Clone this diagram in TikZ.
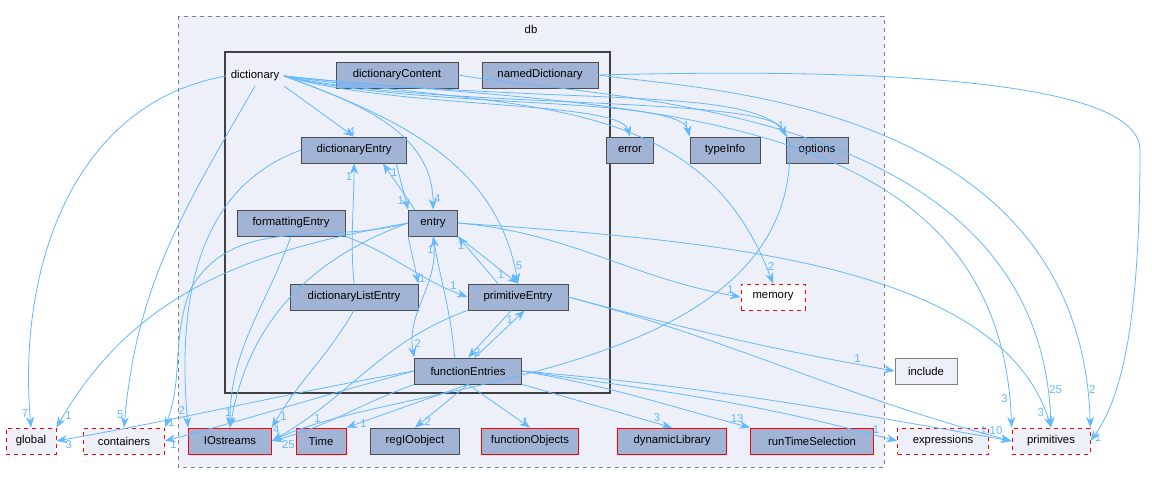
\documentclass[tikz,border=0pt]{standalone}
\usepackage{fontspec}
\setmainfont{Liberation Sans}
\usetikzlibrary{arrows.meta}
\definecolor{nfill}{HTML}{A2B4D6}
\definecolor{ecol}{HTML}{63B8FF}
\definecolor{cfill}{HTML}{EDF0F8}
\begin{document}
\begin{tikzpicture}[x=0.75pt,y=-0.75pt,font=\fontsize{8.5}{10}\selectfont,
  w/.style={minimum width=#1*0.75pt},
  nd/.style={draw=black!70,fill=nfill,line width=0.6pt,minimum height=19.5pt,inner xsep=2pt},
  rd/.style={nd,draw=red},
  ext/.style={draw=red,dashed,fill=cfill,line width=0.6pt,minimum height=19.5pt,inner xsep=2pt},
  e/.style={draw=ecol,line width=0.6pt,-{Stealth[length=8pt,width=6pt]}},
  l/.style={text=ecol,font=\fontsize{8.5}{10}\selectfont,inner sep=1pt}]
\useasboundingbox (0,0) rectangle (1152,484);
\fill[white] (0,0) rectangle (1152,484);
\draw[gray,dashed,fill=cfill,line width=0.7pt] (178,16) rectangle (884,467);
\node at (531,29) {db};
\draw[black!75,line width=1.5pt] (225,52) rectangle (610,393);
% nodes
\node (dict) at (255,76) {dictionary};
\node[nd,w=122] (dc) at (397,75) {dictionaryContent};
\node[nd,w=116] (nd) at (540,75) {namedDictionary};
\node[nd,w=105] (de) at (354,150) {dictionaryEntry};
\node[nd,w=108] (fe) at (291,223) {formattingEntry};
\node[nd,w=49] (en) at (433,223) {entry};
\node[nd,w=128] (dle) at (354,297) {dictionaryListEntry};
\node[nd,w=100] (pe) at (518,297) {primitiveEntry};
\node[nd,w=107] (fen) at (468,371) {functionEntries};
\node[nd,w=47] (err) at (630,150) {error};
\node[nd,w=70] (ti) at (725,150) {typeInfo};
\node[nd,w=62] (opt) at (817,150) {options};
\node[ext,fill=white,w=64] (mem) at (773,297) {memory};
\node[draw=gray,fill=cfill,line width=0.6pt,minimum height=19.5pt,w=62] (inc) at (926,371) {include};
\node[ext,w=50] (glob) at (31,441) {global};
\node[ext,w=81] (cont) at (124,441) {containers};
\node[rd,w=83] (io) at (230,441) {IOstreams};
\node[rd,w=50] (time) at (321,441) {Time};
\node[nd,w=89] (reg) at (415,441) {regIOobject};
\node[rd,w=97] (fo) at (530,441) {functionObjects};
\node[rd,w=109] (dl) at (672,441) {dynamicLibrary};
\node[rd,w=123] (rts) at (812,441) {runTimeSelection};
\node[ext,w=91] (expr) at (943,441) {expressions};
\node[ext,w=78] (prim) at (1051,441) {primitives};
% dictionary edges
\draw[e] (dict.west) to[out=190,in=95] node[l,pos=0.97,left]{7} (glob.north);
\draw[e] (dict.south) to[out=240,in=85] node[l,pos=0.97,left]{5} (cont.north);
\draw[e] (dict.south east) -- node[l,pos=0.9,right]{4} (de.north);
\draw[e] (dict.east) to[out=-20,in=90] node[l,pos=0.95,right]{4} (en.north);
\draw[e] (dict.east) to[out=-20,in=100] node[l,pos=0.95,right]{5} (pe.north);
\draw[e] (dict.east) .. controls (400,110) and (620,100) .. (err.north);
\draw[e] (dict.east) .. controls (420,110) and (680,95) .. node[l,pos=0.95,above]{1} (ti.north west);
\draw[e] (dict.east) .. controls (440,110) and (770,95) .. node[l,pos=0.95,above]{1} (opt.north west);
\draw[e] (dict.east) .. controls (520,110) and (700,90) .. node[l,pos=0.97,right]{2} (mem.north);
\draw[e] (dict.east) .. controls (600,110) and (1000,90) .. node[l,pos=0.97,left]{3} (prim.north west);
\draw[e] (dict.east) .. controls (600,110) and (790,80) .. (790,150) .. controls (790,380) and (400,380) .. node[l,pos=0.9,above]{1} (io.east);
\draw[e] (dc.east) .. controls (600,100) and (1040,100) .. node[l,pos=0.96,right]{25} (prim.north);
\draw[e] (nd.east) .. controls (700,90) and (1080,100) .. node[l,pos=0.96,right]{2} (prim.north east);
\draw[e] (nd.east) .. controls (800,70) and (1140,70) .. (1140,150) .. controls (1140,330) and (1120,400) .. node[l,pos=0.97,right]{1} (prim.east);
% dictionaryEntry
\draw[e] (de.west) to[out=200,in=95] node[l,pos=0.95,left]{2} (io.north west);
\draw[e] ([xshift=-8pt]de.south east) -- node[l,pos=0.8,left]{1} (en.north west);
% entry
\draw[e] ([xshift=5pt]en.north west) -- node[l,pos=0.8,right]{1} ([xshift=-18pt]de.south east);
\draw[e] (en.west) to[out=190,in=60] node[l,pos=0.97,right]{1} (glob.north east);
\draw[e] (en.west) to[out=195,in=60] (190,290) to[out=-110,in=70] node[l,pos=0.97,right]{1} (cont.north east);
\draw[e] (en.west) to[out=200,in=80] node[l,pos=0.95,left]{1} (io.north);
\draw[e] (en.south west) -- node[l,pos=0.9,right]{1} (dle.north east);
\draw[e] (en.south) to[out=-80,in=100] node[l,pos=0.9,right]{2} (fen.north west);
\draw[e] (en.south east) -- node[l,pos=0.8,left]{1} (pe.north);
\draw[e] (en.east) to[out=-5,in=170] node[l,pos=0.97,above]{1} (mem.west);
\draw[e] (en.east) .. controls (700,240) and (1000,260) .. node[l,pos=0.97,left]{3} (prim.north);
% formattingEntry
\draw[e] (fe.south) to[out=-110,in=90] (io.north);
\draw[e] (fe.south east) to[out=-20,in=160] node[l,pos=0.9,above]{1} (pe.west);
% dictionaryListEntry
\draw[e] (dle.north) to[out=95,in=-90] node[l,pos=0.9,left]{1} (de.south);
\draw[e] (dle.south) to[out=-120,in=60] node[l,pos=0.92,right]{1} (io.north east);
% primitiveEntry
\draw[e] ([xshift=-15pt]pe.north) -- node[l,pos=0.8,left]{1} (en.south east);
\draw[e] ([xshift=-5pt]pe.south) -- node[l,pos=0.9,right]{2} (fen.north);
\draw[e] (pe.south west) to[out=200,in=30] node[l,pos=0.96,above left]{4} (io.east);
\draw[e] (pe.east) to[out=-15,in=170] node[l,pos=0.9,above]{1} (inc.west);
\draw[e] (pe.east) to[out=-15,in=165] node[l,pos=0.97,above]{10} (prim.west);
% functionEntries
\draw[e] ([xshift=-10pt]fen.north) to[out=95,in=-80] node[l,pos=0.9,left]{1} (en.south);
\draw[e] ([xshift=5pt]fen.north) -- node[l,pos=0.8,left]{1} ([xshift=5pt]pe.south);
\draw[e] (fen.west) to[out=190,in=10] node[l,pos=0.97,below]{3} (glob.east);
\draw[e] (fen.west) to[out=195,in=15] node[l,pos=0.97,below]{1} (cont.east);
\draw[e] (fen.south west) to[out=200,in=15] node[l,pos=0.95,below right]{25} (io.east);
\draw[e] (fen.south) -- node[l,pos=0.9,right]{1} (time.north east);
\draw[e] (fen.south) -- node[l,pos=0.85,right]{2} (reg.north);
\draw[e] (fen.south) -- node[l,pos=0.85,right]{1} (fo.north);
\draw[e] (fen.south east) -- node[l,pos=0.9,above]{3} (dl.north);
\draw[e] (fen.east) to[out=-10,in=165] node[l,pos=0.95,above]{13} (rts.north west);
\draw[e] (fen.east) to[out=-8,in=165] node[l,pos=0.95,above]{1} (expr.west);
\draw[e] (fen.east) to[out=-5,in=170] node[l,pos=0.95,above]{1} (prim.west);
\end{tikzpicture}
\end{document}
